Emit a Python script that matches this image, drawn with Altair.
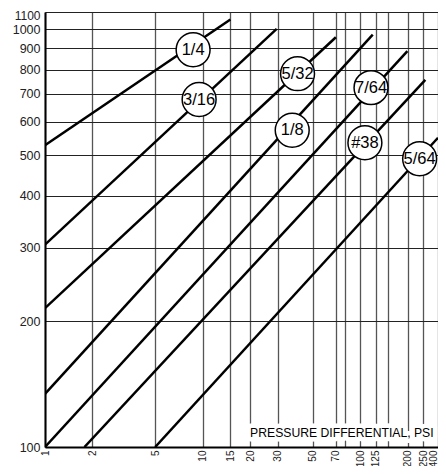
import altair as alt
import pandas as pd

# Orifice sizes and the two end points of each (straight on log-log) line
sizes = ["1/4", "3/16", "5/32", "1/8", "7/64", "#38", "5/64"]
psi_start = [1.0, 1.0, 1.0, 1.0, 1.0, 1.78, 5.0]
flow_start = [528, 305, 215, 134, 100, 100, 100]
psi_end = [15.0, 29.5, 70.0, 120.0, 199.0, 269.0, 400.0]
flow_end = [1055, 1002, 957, 971, 887, 757, 550]

# Where the circled size labels sit on each line
label_psi = [8.7, 9.5, 40.0, 37.0, 117.0, 107.0, 238.0]
label_flow = [893, 679, 783, 573, 725, 535, 490]

y_ticks = [100, 200, 300, 400, 500, 600, 700, 800, 900, 1000, 1100]
x_grid = [1, 2, 5, 10, 15, 20, 30, 50, 70, 80, 100, 125, 150, 200, 250, 400]
x_unlabeled = [80, 150]

x_title = ["PRESSURE DIFFERENTIAL, PSI"]
x_title_psi = [20.0]
x_title_flow = [105.5]

rows = []
for s, a, b, c, d in zip(sizes, psi_start, flow_start, psi_end, flow_end):
    rows.append({"size": s, "psi": a, "flow": b, "k": 0})
    rows.append({"size": s, "psi": c, "flow": d, "k": 1})
lines_df = pd.DataFrame(rows)
labels_df = pd.DataFrame({"size": sizes, "psi": label_psi, "flow": label_flow})
title_df = pd.DataFrame({"t": x_title, "psi": x_title_psi, "flow": x_title_flow})

hide = " || ".join(f"datum.value == {v}" for v in x_unlabeled)

# the printed chart's pressure scale is log, slightly compressed above 250 psi
x_enc = alt.X(
    "psi:Q",
    title=None,
    scale=alt.Scale(type="log", domain=[1, 250, 400], range=[0, 378, 393], nice=False),
    axis=alt.Axis(
        values=x_grid,
        labelExpr=f"({hide}) ? '' : format(datum.value, 'd')",
        labelAngle=270,
        labelFontSize=10,
        labelPadding=3,
        labelOverlap=False,
        labelFlush=False,
        labelBound=False,
        labelOffset={"condition": {"test": "datum.value == 400", "value": -5}, "value": 0},
        ticks=False,
        domainColor="black",
        domainWidth=2,
        gridColor="#555555",
        gridWidth=1.3,
        labelColor="#222222",
        labelFont="Liberation Sans",
    ),
)
y_enc = alt.Y(
    "flow:Q",
    title=None,
    scale=alt.Scale(type="log", domain=[100, 1100], nice=False),
    axis=alt.Axis(
        values=y_ticks,
        format="d",
        labelFontSize={"condition": {"test": "datum.value == 1100", "value": 12}, "value": 12.5},
        labelPadding=5,
        labelOverlap=False,
        labelFlush=False,
        ticks=False,
        domainColor="black",
        domainWidth=2,
        gridColor="#222222",
        gridWidth=1,
        labelColor="#222222",
        labelFont="Liberation Sans",
        labelOffset={"condition": {"test": "datum.value == 1100", "value": 3}, "value": 0},
    ),
)

lines = alt.Chart(lines_df).mark_line(color="black", strokeWidth=2.5, clip=True).encode(
    x=x_enc, y=y_enc, detail="size:N", order="k:O"
)
circles = alt.Chart(labels_df).mark_circle(
    size=1150, color="white", opacity=1, stroke="black", strokeWidth=1.5
).encode(x=x_enc, y=y_enc)
texts = alt.Chart(labels_df).mark_text(
    fontSize=16.5, font="Liberation Sans", color="black", baseline="middle"
).encode(x=x_enc, y=y_enc, text="size:N")

halo = alt.Chart(title_df).mark_text(
    align="left", baseline="alphabetic", fontSize=12.2, font="Liberation Sans",
    color="white", stroke="white", strokeWidth=9, strokeJoin="round",
).encode(x=x_enc, y=y_enc, text="t:N")
title_txt = alt.Chart(title_df).mark_text(
    align="left", baseline="alphabetic", fontSize=12.2, font="Liberation Sans",
    color="black",
).encode(x=x_enc, y=y_enc, text="t:N")

chart = alt.layer(lines, circles, texts, halo, title_txt).properties(
    width=393,
    height=435,
    autosize=alt.AutoSizeParams(type="none"),
    padding={"left": 37, "top": 4, "right": 0, "bottom": 19},
).configure_view(stroke=None)

chart.save("out.html", embed_options={"renderer": "svg", "actions": False})
